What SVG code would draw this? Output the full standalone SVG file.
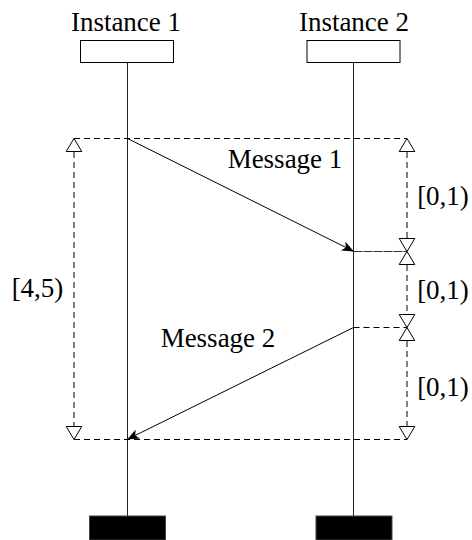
<svg xmlns="http://www.w3.org/2000/svg" width="472" height="540" viewBox="0 0 472 540">
  <style>
    text { font-family: 'Liberation Serif', 'Times New Roman', Times, 'DejaVu Serif', serif; font-size: 27px; fill: #000; }
    .life { stroke: #222; stroke-width: 1; fill: none; }
    .head { fill: #fff; stroke: #000; stroke-width: 1; }
    .foot { fill: #000; stroke: #444; stroke-width: 1; }
    .msg { stroke: #000; stroke-width: 1; fill: none; }
    .dash { stroke: #000; stroke-width: 1; fill: none; stroke-dasharray: 6 4; }
    .tri { fill: #fff; stroke: #000; stroke-width: 1; }
  </style>
  <defs>
    <marker id="arrow" viewBox="0 0 12 10" refX="11" refY="5" markerWidth="12" markerHeight="10" markerUnits="userSpaceOnUse" orient="auto">
      <path d="M0,0 L12,5 L0,10 L3,5 Z" fill="#000"/>
    </marker>
  </defs>

  <!-- instance 1 -->
  <g id="instance1">
    <text x="126" y="31" text-anchor="middle" font-family="Liberation Serif, serif">Instance 1</text>
    <rect class="head" x="80.5" y="40.5" width="93" height="22"/>
    <line class="life" x1="127.5" y1="62.5" x2="127.5" y2="516"/>
    <rect class="foot" x="89.5" y="516" width="76" height="24"/>
  </g>

  <!-- instance 2 -->
  <g id="instance2">
    <text x="354" y="31" text-anchor="middle" font-family="Liberation Serif, serif">Instance 2</text>
    <rect class="head" x="307" y="40.5" width="93" height="22"/>
    <line class="life" x1="353.5" y1="62.5" x2="353.5" y2="516"/>
    <rect class="foot" x="316" y="516" width="76" height="24"/>
  </g>

  <!-- messages and timing constraints -->
  <g id="connectors">
    <!-- frame lines -->
    <line class="dash" x1="74" y1="138.5" x2="407" y2="138.5"/>
    <line class="dash" x1="74" y1="439.5" x2="407" y2="439.5"/>
    <line class="dash" x1="353.5" y1="327.5" x2="407" y2="327.5"/>
    <line stroke="#333" stroke-width="1" stroke-dasharray="9 1" x1="353.5" y1="251.5" x2="407" y2="251.5"/>

    <!-- vertical interval lines -->
    <line class="dash" x1="74" y1="152" x2="74" y2="426"/>
    <line class="dash" x1="407" y1="152" x2="407" y2="238"/>
    <line class="dash" x1="407" y1="265" x2="407" y2="314"/>
    <line class="dash" x1="407" y1="341" x2="407" y2="426"/>

    <!-- open triangle ends -->
    <path class="tri" d="M74,138.5 L81.8,151.5 L66.2,151.5 Z"/>
    <path class="tri" d="M74,439.5 L81.8,426.5 L66.2,426.5 Z"/>
    <path class="tri" d="M407,138.5 L414.8,151.5 L399.2,151.5 Z"/>
    <path class="tri" d="M407,251.5 L414.8,238.5 L399.2,238.5 Z"/>
    <path class="tri" d="M407,251.5 L414.8,264.5 L399.2,264.5 Z"/>
    <path class="tri" d="M407,327.5 L414.8,314.5 L399.2,314.5 Z"/>
    <path class="tri" d="M407,327.5 L414.8,340.5 L399.2,340.5 Z"/>
    <path class="tri" d="M407,439.5 L414.8,426.5 L399.2,426.5 Z"/>

    <!-- messages -->
    <line class="msg" x1="127.5" y1="138.5" x2="353" y2="251" marker-end="url(#arrow)"/>
    <line class="msg" x1="353.5" y1="327.5" x2="128" y2="439" marker-end="url(#arrow)"/>
  </g>

  <!-- labels -->
  <g id="labels">
    <text x="285" y="168" text-anchor="middle">Message 1</text>
    <text x="218" y="347" text-anchor="middle">Message 2</text>
    <text x="443" y="205" text-anchor="middle">[0,1)</text>
    <text x="443" y="299" text-anchor="middle">[0,1)</text>
    <text x="443" y="396" text-anchor="middle">[0,1)</text>
    <text x="37.5" y="297" text-anchor="middle">[4,5)</text>
  </g>
</svg>
